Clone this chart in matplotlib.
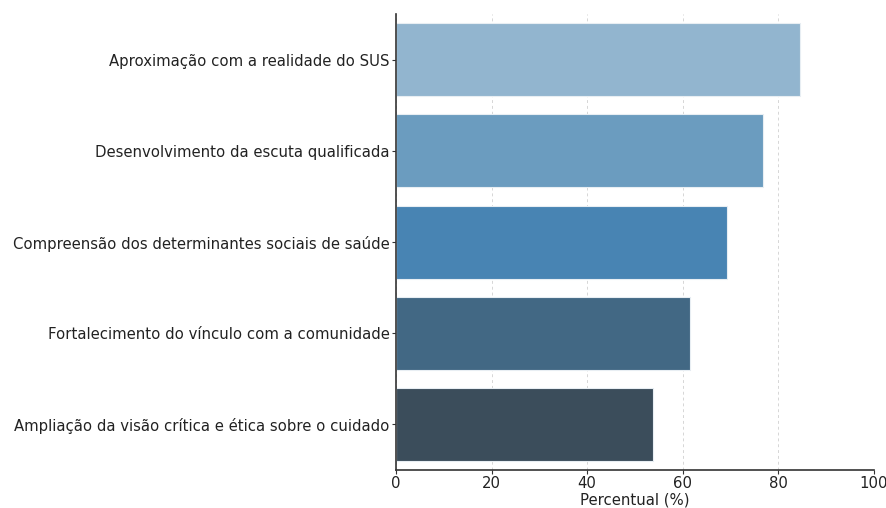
import matplotlib
matplotlib.use('Agg')
import matplotlib.pyplot as plt
import numpy as np

# Dados
categorias = [
    'Aproximação com a realidade do SUS',
    'Desenvolvimento da escuta qualificada',
    'Compreensão dos determinantes sociais de saúde',
    'Fortalecimento do vínculo com a comunidade',
    'Ampliação da visão crítica e ética sobre o cuidado',
]
percentuais = [84.6, 76.9, 69.2, 61.5, 53.8]
cores = ['#92b5cf', '#6b9cbf', '#4884b3', '#426884', '#3b4d5b']

fig, ax = plt.subplots(figsize=(8.87, 5.08), dpi=100)
fig.subplots_adjust(left=0.4465, right=0.985, top=0.972, bottom=0.075)

y_pos = np.arange(len(categorias))
ax.barh(y_pos, percentuais, height=0.8, color=cores, edgecolor='#e8eef3', linewidth=0.8, zorder=2)

ax.set_yticks(y_pos)
ax.set_yticklabels(categorias, fontsize=10.7, color='#222222')
ax.set_ylim(4.5, -0.5)
ax.set_xlim(0, 100)
ax.set_xticks(np.arange(0, 101, 20))
ax.tick_params(axis='x', labelsize=10.7, colors='#222222', pad=1.5)
ax.tick_params(axis='y', pad=1.5)
ax.tick_params(axis='both', color='#333333', length=3)
ax.set_xlabel('Percentual (%)', fontsize=10.7, color='#222222', labelpad=1)

ax.grid(axis='x', linestyle=(0, (3, 3)), color='#d6d6d6', linewidth=0.7, zorder=0)
ax.set_axisbelow(True)
for s in ['top', 'right']:
    ax.spines[s].set_visible(False)
for s in ['left', 'bottom']:
    ax.spines[s].set_color('#333333')
    ax.spines[s].set_linewidth(1.2)

plt.savefig('out.png', dpi=100)
